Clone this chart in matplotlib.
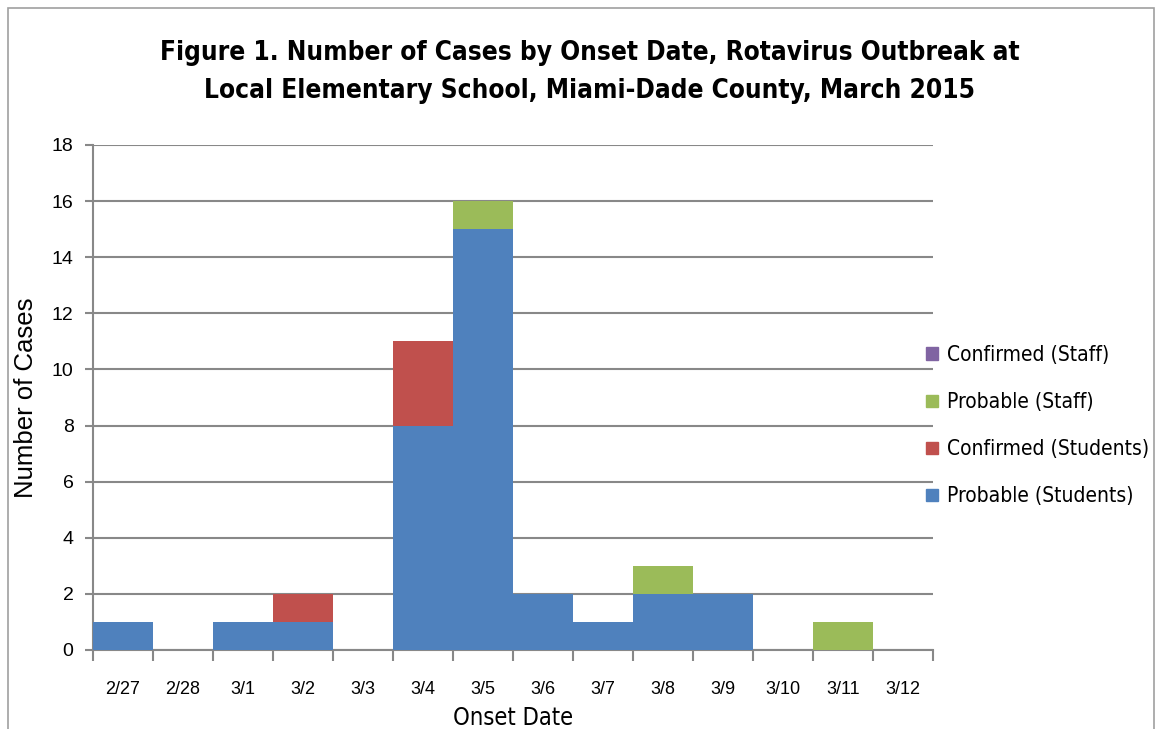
import matplotlib
matplotlib.use('Agg')
from matplotlib import pyplot as plt
from matplotlib import font_manager
from matplotlib.patches import Rectangle, Patch
import numpy as np

dates = ['2/27', '2/28', '3/1', '3/2', '3/3', '3/4', '3/5', '3/6', '3/7', '3/8', '3/9', '3/10', '3/11', '3/12']
probable_students = [1, 0, 1, 1, 0, 8, 15, 2, 1, 2, 2, 0, 0, 0]
confirmed_students = [0, 0, 0, 1, 0, 3, 0, 0, 0, 0, 0, 0, 0, 0]
probable_staff = [0, 0, 0, 0, 0, 0, 1, 0, 0, 1, 0, 0, 1, 0]
confirmed_staff = [0, 0, 0, 0, 0, 0, 0, 0, 0, 0, 0, 0, 0, 0]

plt.rcParams['font.family'] = ['Liberation Sans', 'DejaVu Sans']

fig = plt.figure(figsize=(11.59, 7.29), dpi=100)
ax = fig.add_axes([0.0802, 0.1084, 0.7248, 0.6927])

# condensed faces stand in for Arial Narrow
fp_title = font_manager.FontProperties(family='DejaVu Sans', stretch='condensed', weight='bold', size=18.8)
fp_legend = font_manager.FontProperties(family='DejaVu Sans', stretch='condensed', size=15)
fp_xlabel = font_manager.FontProperties(family='DejaVu Sans', stretch='condensed', size=17)

# outer chart border (cut off at the bottom)
fig.patches.append(Rectangle((8 / 1159, -0.1), 1146 / 1159, 1.1 - 8 / 729, transform=fig.transFigure,
                             fill=False, edgecolor='#a0a0a0', linewidth=1.2))

x = np.arange(len(dates))
ps = np.array(probable_students)
cs = np.array(confirmed_students)
pst = np.array(probable_staff)
cst = np.array(confirmed_staff)
ax.bar(x, ps, width=1.0, color='#4F81BD', edgecolor='none', zorder=3)
ax.bar(x, cs, width=1.0, bottom=ps, color='#C0504D', edgecolor='none', zorder=3)
ax.bar(x, pst, width=1.0, bottom=ps + cs, color='#9BBB59', edgecolor='none', zorder=3)
ax.bar(x, cst, width=1.0, bottom=ps + cs + pst, color='#8064A2', edgecolor='none', zorder=3)

ax.set_xlim(-0.5, len(dates) - 0.5)
ax.set_ylim(0, 18)
ax.set_yticks(range(0, 19, 2))
ax.yaxis.grid(True, color='#888888', linewidth=1.5, zorder=0)
ax.set_axisbelow(True)

ax.set_xticks(x)
ax.set_xticklabels(dates, fontsize=13)
ax.set_xticks(np.arange(-0.5, len(dates)), minor=True)
ax.tick_params(axis='x', which='major', length=0, pad=22)
ax.tick_params(axis='x', which='minor', length=8, width=1.5, color='#888888')
ax.tick_params(axis='y', length=6, width=1.5, color='#888888', labelsize=14, pad=8)

for s in ['top', 'right']:
    ax.spines[s].set_visible(False)
for s in ['left', 'bottom']:
    ax.spines[s].set_color('#888888')
    ax.spines[s].set_linewidth(1.5)

ax.set_ylabel('Number of Cases', fontsize=18.5)
ax.yaxis.set_label_coords(-0.066, 0.5)
ax.set_xlabel('Onset Date', fontproperties=fp_xlabel, labelpad=6)

fig.text(0.509, 0.901, 'Figure 1. Number of Cases by Onset Date, Rotavirus Outbreak at\nLocal Elementary School, Miami-Dade County, March 2015',
         ha='center', va='center', fontproperties=fp_title, linespacing=1.62)

handles = [Patch(color='#8064A2'), Patch(color='#9BBB59'), Patch(color='#C0504D'), Patch(color='#4F81BD')]
labels = ['Confirmed (Staff)', 'Probable (Staff)', 'Confirmed (Students)', 'Probable (Students)']
fig.legend(handles, labels, loc='center left', bbox_to_anchor=(0.783, 0.416), frameon=False,
           prop=fp_legend, handlelength=0.55, handleheight=0.55, handletextpad=0.45, labelspacing=1.3)

fig.savefig('out.png', dpi=100)
